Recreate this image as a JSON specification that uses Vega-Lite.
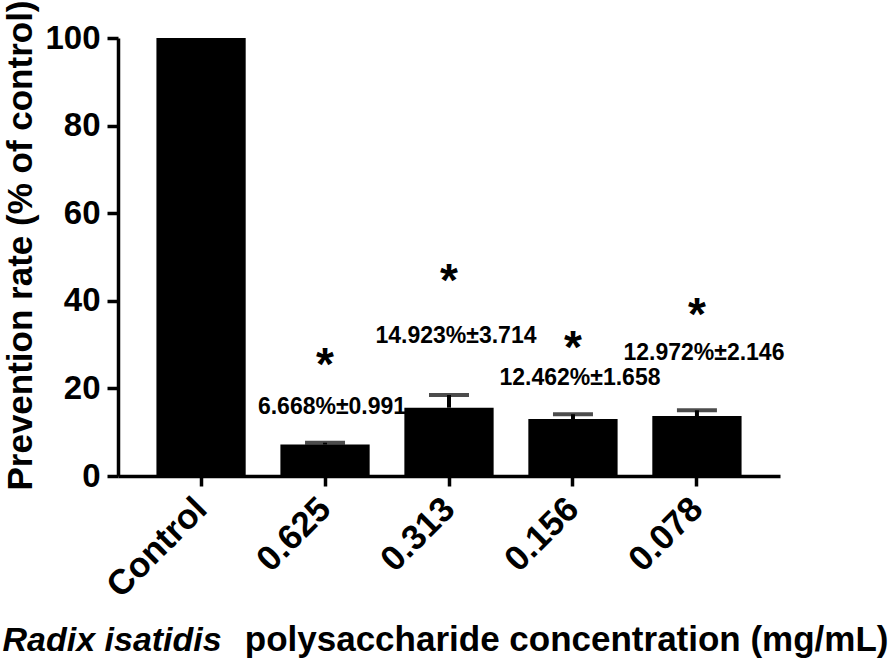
{
  "$schema": "https://vega.github.io/schema/vega-lite/v6.json",
  "width": 662,
  "height": 438,
  "autosize": {"type": "none"},
  "padding": {"left": 118, "top": 38, "right": 116, "bottom": 190},
  "background": "white",
  "config": {
    "view": {"stroke": null},
    "axis": {
      "grid": false,
      "domainColor": "black",
      "domainWidth": 3.5,
      "tickColor": "black",
      "tickWidth": 3.5,
      "labelColor": "black",
      "titleColor": "black",
      "labelFont": "Liberation Sans",
      "titleFont": "Liberation Sans",
      "labelFontWeight": "bold",
      "titleFontWeight": "bold"
    }
  },
  "data": {
    "values": [
      {"group": "Control", "value": 100, "upper": null, "label": null, "labelY": null, "starY": null},
      {"group": "0.625", "value": 7.2, "upper": 7.6, "label": "6.668%±0.991", "labelY": 15.9, "starY": 27.6},
      {"group": "0.313", "value": 15.6, "upper": 18.5, "label": "14.923%±3.714", "labelY": 32.2, "starY": 46.8},
      {"group": "0.156", "value": 13.0, "upper": 14.1, "label": "12.462%±1.658", "labelY": 22.6, "starY": 31.5},
      {"group": "0.078", "value": 13.7, "upper": 15.0, "label": "12.972%±2.146", "labelY": 28.3, "starY": 39.0}
    ]
  },
  "layer": [
    {
      "mark": {"type": "bar", "color": "black"},
      "encoding": {
        "x": {
          "field": "group", "type": "nominal",
          "sort": ["Control", "0.625", "0.313", "0.156", "0.078"],
          "scale": {"paddingInner": 0.28, "paddingOuter": 0.31},
          "axis": {
            "orient": "bottom",
            "title": "Radix isatidis",
            "titleFontStyle": "italic",
            "titleFontSize": 34,
            "titleAlign": "left",
            "titleX": -116,
            "titleY": 174,
            "titleBaseline": "alphabetic",
            "labelAngle": -45,
            "labelFontSize": 35,
            "labelBaseline": "middle",
            "tickSize": 10,
            "labelPadding": 17
          }
        },
        "y": {
          "field": "value", "type": "quantitative",
          "title": "Prevention rate (% of control)",
          "scale": {"domain": [0, 100], "nice": false},
          "axis": {
            "values": [0, 20, 40, 60, 80, 100],
            "tickSize": 11,
            "labelFontSize": 33,
            "labelPadding": 7,
            "titleFontSize": 35,
            "titleAngle": -90,
            "titleX": -87,
            "titleY": 207,
            "titleAlign": "center",
            "titleBaseline": "alphabetic"
          }
        }
      }
    },
    {
      "transform": [{"filter": "datum.upper != null"}],
      "mark": {"type": "rule", "color": "black", "strokeWidth": 4},
      "encoding": {
        "x": {
          "field": "group", "type": "nominal",
          "sort": ["Control", "0.625", "0.313", "0.156", "0.078"],
          "axis": {
            "orient": "bottom",
            "domain": false,
            "ticks": false,
            "labels": false,
            "title": "polysaccharide concentration (mg/mL)",
            "titleFontSize": 35,
            "titleAlign": "right",
            "titleX": 770,
            "titleY": 174,
            "titleBaseline": "alphabetic"
          }
        },
        "y": {"field": "value", "type": "quantitative", "title": "Prevention rate (% of control)", "scale": {"domain": [0, 100], "nice": false}},
        "y2": {"field": "upper"}
      }
    },
    {
      "transform": [{"filter": "datum.upper != null"}],
      "mark": {"type": "tick", "color": "black", "thickness": 4, "size": 40},
      "encoding": {
        "x": {"field": "group", "type": "nominal", "sort": ["Control", "0.625", "0.313", "0.156", "0.078"], "axis": null},
        "y": {"field": "upper", "type": "quantitative", "title": "Prevention rate (% of control)", "scale": {"domain": [0, 100], "nice": false}}
      }
    },
    {
      "transform": [{"filter": "datum.label != null"}],
      "mark": {"type": "text", "color": "black", "font": "Liberation Sans", "fontWeight": "bold", "fontSize": 23, "baseline": "middle", "align": "center", "dx": 7, "dy": 1},
      "encoding": {
        "x": {"field": "group", "type": "nominal", "sort": ["Control", "0.625", "0.313", "0.156", "0.078"], "axis": null},
        "y": {"field": "labelY", "type": "quantitative", "title": "Prevention rate (% of control)", "scale": {"domain": [0, 100], "nice": false}},
        "text": {"field": "label"}
      }
    },
    {
      "transform": [{"filter": "datum.starY != null"}],
      "mark": {"type": "text", "text": "*", "color": "black", "font": "Liberation Sans", "fontWeight": "bold", "fontSize": 46, "baseline": "middle", "align": "center", "dy": 11},
      "encoding": {
        "x": {"field": "group", "type": "nominal", "sort": ["Control", "0.625", "0.313", "0.156", "0.078"], "axis": null},
        "y": {"field": "starY", "type": "quantitative", "title": "Prevention rate (% of control)", "scale": {"domain": [0, 100], "nice": false}}
      }
    }
  ],
  "resolve": {"axis": {"x": "independent"}}
}
